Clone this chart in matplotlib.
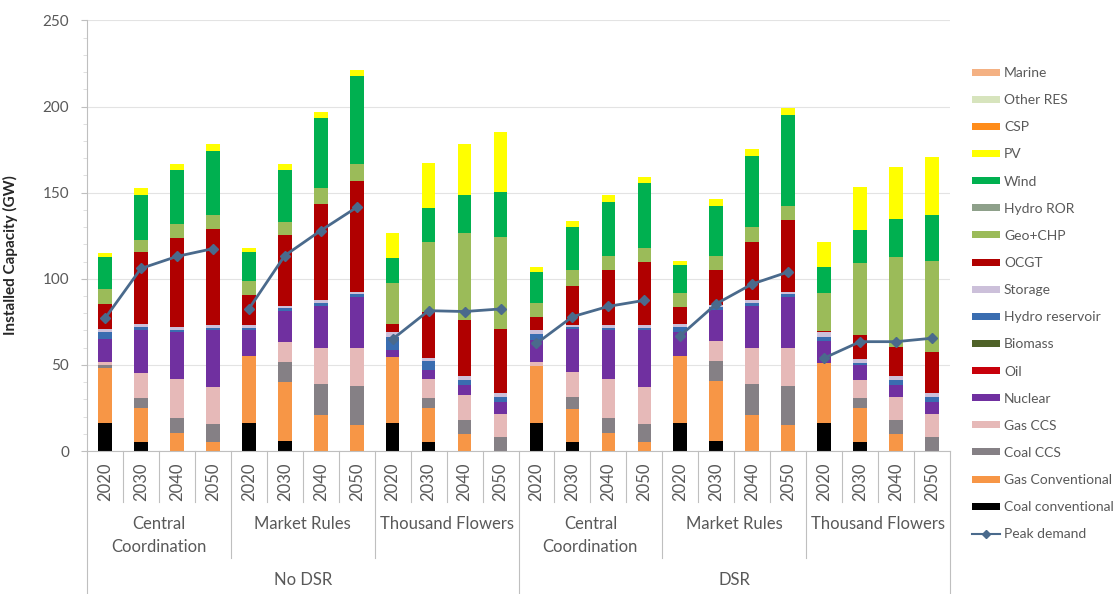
import numpy as np
import matplotlib.pyplot as plt
from matplotlib.patches import Patch
from matplotlib.lines import Line2D

plt.rcParams['font.family'] = 'Lato'

years = ['2020', '2030', '2040', '2050']
scenarios = ['Central\nCoordination', 'Market Rules', 'Thousand Flowers']
dsr_cases = ['No DSR', 'DSR']

# installed capacity per technology (GW), 24 bars:
# No DSR (CC, MR, TF) then DSR (CC, MR, TF), each 2020..2050
coal_conv = [16, 5, 0, 0, 16, 6, 0, 0, 16, 5, 0, 0,
             16, 5, 0, 0, 16, 6, 0, 0, 16, 5, 0, 0]
gas_conv = [32.5, 20, 10.5, 5, 39, 34, 21, 15, 38.5, 20, 10, 0,
            33.5, 19.5, 10.5, 5, 39, 34.5, 21, 15, 35, 20, 10, 0]
coal_ccs = [1.5, 6, 8.5, 10.5, 0, 11.5, 18, 23, 0, 5.5, 8, 8,
            0, 7, 8.5, 10.5, 0, 11.5, 18, 23, 0, 6, 8, 8]
gas_ccs = [1.5, 14.5, 23, 21.5, 0, 12, 21, 22, 0, 11.5, 14.5, 13.5,
           2, 14.5, 23, 21.5, 0, 12, 21, 22, 0, 10.5, 13.5, 13.5]
nuclear = [13.6, 25, 27, 33, 15, 18, 24.5, 29.5, 4, 5, 6, 7,
           13, 25, 28, 33, 14, 18, 24.5, 29.5, 13, 8.5, 7, 7]
hydro_res = [4, 1.5, 1.5, 1.5, 1.5, 1.5, 1.5, 1.5, 7.5, 5, 3, 3,
             3.5, 1, 1.5, 1.5, 3, 1.5, 1.5, 1.5, 2, 1, 3, 3]
storage = [2, 1.5, 1.5, 1.5, 1.5, 1.5, 1.5, 1.5, 3, 2, 2, 2,
           2, 1, 1.5, 1.5, 2, 1.5, 1.5, 1.5, 3, 2.5, 2, 2]
ocgt = [14.5, 42, 51.5, 56, 17.5, 41, 56, 64.5, 5, 27, 32.5, 37.5,
        8, 23, 32, 37, 9.5, 20, 34, 41.5, 0.5, 14, 17, 24]
geo_chp = [8.7, 7, 8.5, 8, 8.5, 7.5, 9, 9.5, 23.5, 40.5, 50.5, 53,
           8, 9, 8.5, 8, 8.5, 8.5, 8.5, 8.5, 22, 41.5, 52, 53]
wind = [18.3, 26, 31, 37.5, 16.5, 30, 41, 51.5, 14.5, 19.5, 22, 26.5,
        18, 25, 31, 37.5, 16, 29, 41.5, 52.5, 15.5, 19.5, 22.5, 26.5]
pv = [2.4, 4, 3.5, 3.5, 2.5, 3.5, 3.5, 3.5, 14.5, 26, 30, 34.5,
      3, 3.5, 4, 3.5, 2.5, 4, 4, 4, 14.5, 25, 30, 34]
peak_demand = [77, 106, 113, 117.5, 82.5, 113.5, 128, 141.5, 65, 81.5, 81, 82.5,
               62.5, 78, 84, 87.5, 67, 85.5, 97, 104, 54, 63.5, 63.5, 65.5]

# stacking order, bottom to top (None = nothing installed, legend only)
series = [
    ('Coal conventional', coal_conv, '#000000'),
    ('Gas Conventional', gas_conv, '#F79646'),
    ('Coal CCS', coal_ccs, '#858085'),
    ('Gas CCS', gas_ccs, '#E6B9B8'),
    ('Nuclear', nuclear, '#7030A0'),
    ('Oil', None, '#C8000A'),
    ('Biomass', None, '#4F6228'),
    ('Hydro reservoir', hydro_res, '#3A6DB0'),
    ('Storage', storage, '#CCC0DA'),
    ('OCGT', ocgt, '#B00000'),
    ('Geo+CHP', geo_chp, '#9BBB59'),
    ('Hydro ROR', None, '#8EA08A'),
    ('Wind', wind, '#00B050'),
    ('PV', pv, '#FFFF00'),
    ('CSP', None, '#FF8C1A'),
    ('Other RES', None, '#D7E4BD'),
    ('Marine', None, '#F4B183'),
]
peak_color = '#4A6A8C'
text_color = '#595959'
line_color = '#BFBFBF'

n = len(peak_demand)
x = np.arange(n)

fig = plt.figure(figsize=(11.17, 5.94), dpi=100)
ax = fig.add_axes([0.0779, 0.2407, 0.7726, 0.7248])

bottom = np.zeros(n)
for name, vals, color in series:
    if vals is None:
        continue
    ax.bar(x, vals, 0.38, bottom=bottom, color=color, zorder=2)
    bottom += np.array(vals)

# peak demand, one line per scenario
peak = np.array(peak_demand)
for g in range(n // 4):
    sl = slice(4 * g, 4 * g + 4)
    ax.plot(x[sl], peak[sl], color=peak_color, lw=2, marker='D', ms=5, zorder=3)

ax.set_xlim(-0.5, n - 0.5)
ax.set_ylim(0, 250)
ax.set_yticks(np.arange(0, 251, 50))
ax.set_yticks(np.arange(0, 251, 10), minor=True)
ax.tick_params(axis='y', which='major', length=4, color=line_color, labelsize=11,
               labelcolor=text_color, pad=9)
ax.tick_params(axis='y', which='minor', length=3, color='#D9D9D9')
ax.set_xticks([])
ax.grid(axis='y', color='#E3E3E3', lw=0.8, zorder=0)
for s in ['top', 'right']:
    ax.spines[s].set_visible(False)
ax.spines['left'].set_color(line_color)
ax.spines['bottom'].set_color(line_color)
ax.set_ylabel('Installed Capacity (GW)', fontsize=11, fontweight='bold', color='#262626')
ax.yaxis.set_label_coords(-0.08, 0.455)

# multi-level category axis
tr = ax.get_xaxis_transform()
for i in range(n):
    ax.text(x[i], -0.072, years[i % 4], transform=tr, rotation=90,
            ha='center', va='center', fontsize=12, color=text_color)
for k in range(n + 1):
    edge = k - 0.5
    if k % 12 == 0:
        y_end = -0.34
    elif k % 4 == 0:
        y_end = -0.2485
    else:
        y_end = -0.1185
    ax.plot([edge, edge], [0, y_end], transform=tr, color=line_color, lw=0.8,
            clip_on=False)
for g in range(n // 4):
    ax.text(4 * g + 1.5, -0.15, scenarios[g % 3], transform=tr, ha='center', va='top',
            fontsize=12, color=text_color, linespacing=1.55)
for d in range(2):
    ax.text(12 * d + 5.5, -0.30, dsr_cases[d], transform=tr, ha='center', va='center',
            fontsize=12, color=text_color)

# legend, top entry first
handles = [Patch(facecolor=c, edgecolor='none') for _, _, c in series[::-1]]
labels = [name for name, _, _ in series[::-1]]
handles.append(Line2D([], [], color=peak_color, lw=1.5, marker='D', ms=4))
labels.append('Peak demand')
fig.legend(handles, labels, loc='upper left', bbox_to_anchor=(972 / 1117, 1 - 67 / 594),
           frameon=False, fontsize=10, handlelength=2.0, handleheight=0.4,
           handletextpad=0.3, labelspacing=1.09, borderpad=0, borderaxespad=0,
           labelcolor=text_color)

fig.savefig('out.png', dpi=100)
